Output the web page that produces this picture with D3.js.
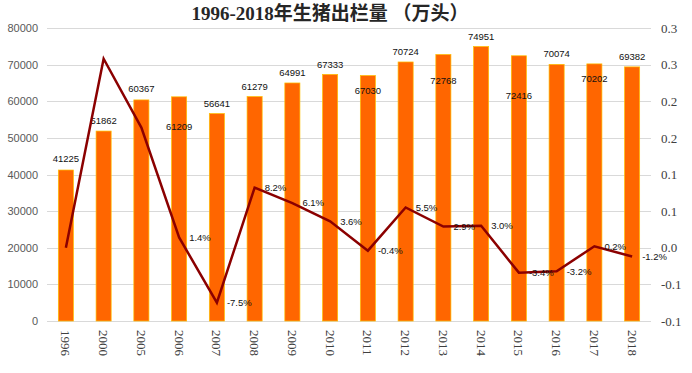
<!DOCTYPE html>
<html>
<head>
<meta charset="utf-8">
<script src="https://cdn.jsdelivr.net/npm/d3@7"></script>
<style>
  body { margin: 0; background: #fff; }
  svg { display: block; }
</style>
</head>
<body>
<svg id="chart" width="692" height="373"></svg>
<script>
// data
const years = ["1996", "2000", "2005", "2006", "2007", "2008", "2009", "2010",
               "2011", "2012", "2013", "2014", "2015", "2016", "2017", "2018"];
const output = [41225, 51862, 60367, 61209, 56641, 61279, 64991, 67333,
                67030, 70724, 72768, 74951, 72416, 70074, 70202, 69382];
const growth = [0, 0.258, 0.164, 0.014, -0.075, 0.082, 0.061, 0.036,
                -0.004, 0.055, 0.029, 0.030, -0.034, -0.032, 0.002, -0.012];
const growthLabels = ["", "", "", "1.4%", "-7.5%", "8.2%", "6.1%", "3.6%",
                      "-0.4%", "5.5%", "2.9%", "3.0%", "-3.4%", "-3.2%", "0.2%", "-1.2%"];
const leftTicks = [0, 10000, 20000, 30000, 40000, 50000, 60000, 70000, 80000];
const rightTicks = [-0.1, -0.05, 0, 0.05, 0.1, 0.15, 0.2, 0.25, 0.3];
const rightTickLabels = ["-0.1", "-0.1", "0.0", "0.1", "0.1", "0.2", "0.2", "0.3", "0.3"];

// label placement (px from bar top; negative = above)
const barLabelDy = [-11, -10, -11, 30, -10, -10, -10, -10,
                    15, -10, 26, -10, 40, -11, 15, -10];

const svg = d3.select('#chart');
const margin = { top: 28, right: 41, bottom: 52, left: 47 };
const W = 692, H = 373;

const x = d3.scaleBand()
    .domain(years)
    .range([margin.left, W - margin.right])
    .paddingInner(0.6)
    .paddingOuter(0.3);

const y = d3.scaleLinear().domain([0, 80000]).range([H - margin.bottom, margin.top]);
const y2 = d3.scaleLinear().domain([-0.1, 0.3]).range([H - margin.bottom, margin.top]);

// title
svg.append('text')
    .attr('x', 330)
    .attr('y', 20)
    .attr('text-anchor', 'middle')
    .style('font-family', '"Liberation Serif", "Times New Roman", "Noto Sans CJK SC", serif')
    .style('font-weight', 'bold')
    .style('font-size', '19px')
    .attr('fill', '#262626')
    .text('1996-2018年生猪出栏量 （万头）');

// gridlines
svg.append('g')
    .selectAll('line')
    .data(leftTicks)
    .enter().append('line')
    .attr('x1', margin.left)
    .attr('x2', W - margin.right)
    .attr('y1', d => Math.round(y(d)) + 0.5)
    .attr('y2', d => Math.round(y(d)) + 0.5)
    .attr('stroke', '#d9d9d9')
    .attr('stroke-width', 1);

// left axis
const leftAxis = svg.append('g')
    .attr('transform', `translate(${margin.left},0)`)
    .call(d3.axisLeft(y).tickValues(leftTicks).tickSize(0).tickPadding(9)
        .tickFormat(d3.format('d')));
leftAxis.select('.domain').remove();
leftAxis.selectAll('text')
    .style('font-family', '"Liberation Sans", Arial, sans-serif')
    .style('font-size', '11px')
    .attr('fill', '#595959');

// right axis
const rightAxis = svg.append('g')
    .attr('transform', `translate(${W - margin.right},0)`)
    .call(d3.axisRight(y2).tickValues(rightTicks).tickSize(0).tickPadding(10)
        .tickFormat((d, i) => rightTickLabels[i]));
rightAxis.select('.domain').remove();
rightAxis.selectAll('text')
    .style('font-family', '"Liberation Serif", "Times New Roman", serif')
    .style('font-size', '13px')
    .attr('fill', '#404040');

// bottom axis with rotated year labels
const bottomAxis = svg.append('g')
    .attr('transform', `translate(0,${H - margin.bottom})`)
    .call(d3.axisBottom(x).tickSize(0).tickPadding(0));
bottomAxis.select('.domain').remove();
bottomAxis.selectAll('text')
    .style('font-family', '"Liberation Serif", "Times New Roman", serif')
    .style('font-size', '13px')
    .attr('fill', '#404040')
    .attr('text-anchor', 'start')
    .attr('dy', '0.35em')
    .attr('transform', 'translate(0,9) rotate(90)');

// bars
svg.append('g')
    .selectAll('rect')
    .data(output)
    .enter().append('rect')
    .attr('x', (d, i) => x(years[i]))
    .attr('y', d => y(d))
    .attr('width', x.bandwidth())
    .attr('height', d => y(0) - y(d))
    .attr('fill', '#ff6600')
    .attr('stroke', '#ffc000')
    .attr('stroke-width', 0.7);

// bar labels
svg.append('g')
    .selectAll('text')
    .data(output)
    .enter().append('text')
    .attr('x', (d, i) => x(years[i]) + x.bandwidth() / 2)
    .attr('y', (d, i) => y(d) + barLabelDy[i])
    .attr('dy', '0.35em')
    .attr('text-anchor', 'middle')
    .style('font-family', '"Liberation Sans", Arial, sans-serif')
    .style('font-size', '9.5px')
    .attr('fill', '#111')
    .text(d => d);

// growth line
const line = d3.line()
    .x((d, i) => x(years[i]) + x.bandwidth() / 2)
    .y(d => y2(d));

svg.append('path')
    .datum(growth)
    .attr('d', line)
    .attr('fill', 'none')
    .attr('stroke', '#8b0000')
    .attr('stroke-width', 2.5)
    .attr('stroke-linejoin', 'miter');

// growth labels
svg.append('g')
    .selectAll('text')
    .data(growth)
    .enter().append('text')
    .attr('x', (d, i) => x(years[i]) + x.bandwidth() / 2 + 10)
    .attr('y', d => y2(d))
    .attr('dy', '0.35em')
    .style('font-family', '"Liberation Sans", Arial, sans-serif')
    .style('font-size', '9.5px')
    .attr('fill', '#111')
    .text((d, i) => growthLabels[i]);
</script>
</body>
</html>
